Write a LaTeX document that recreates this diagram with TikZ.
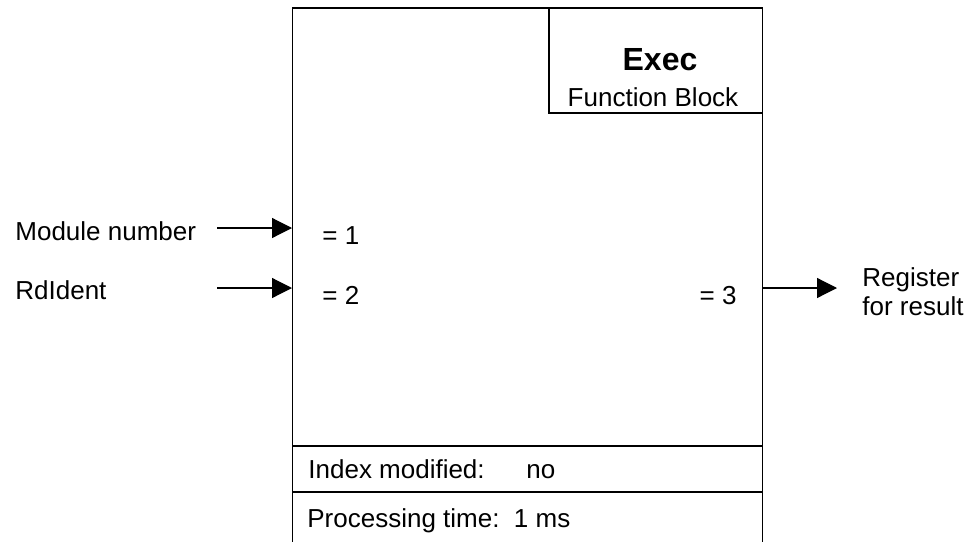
\documentclass[tikz,border=0pt]{standalone}
\usepackage{fontspec}
\setmainfont{Liberation Sans}
\usetikzlibrary{positioning, arrows.meta}

\begin{document}
\begin{tikzpicture}[
      x=0.5pt, y=-0.5pt,
      txt/.style={anchor=base west, inner sep=0pt, font=\fontsize{13}{15}\selectfont},
      arr/.style={-{Triangle[length=10pt, width=10pt]}, line width=0.6pt},
      rule/.style={line width=1pt}]
      \useasboundingbox (0,0) rectangle (969,541);
      % block frame and header
      \node[draw, line width=0.6pt, anchor=north west, minimum width=235pt, minimum height=280pt, inner sep=0pt] (fb) at (292,8) {};
      \draw[rule] (fb.north west) -- (fb.north east);
      \node[anchor=north east, minimum width=106.5pt, minimum height=52pt, inner sep=0pt] (hdr) at (fb.north east) {};
      \draw[rule] (hdr.north west) -- (hdr.south west) -- (hdr.south east);
      \node[anchor=base, font=\bfseries\fontsize{16}{19}\selectfont] (exec) at (660,70) {Exec};
      \node[txt, anchor=base] (kind) at (653,106) {Function Block};
      % footer rows
      \coordinate (idx) at (292,446);
      \coordinate (tim) at (292,492);
      \draw[rule] (idx) -- (idx -| fb.east);
      \draw[rule] (tim) -- (tim -| fb.east);
      \node[txt] (idxmod) at (308,478) {Index modified:};
      \node[txt] (idxval) at (526,478) {no};
      \node[txt] (ptime)  at (307,527) {Processing time:\ \ 1 ms};
      % inputs
      \node[txt] (modnum) at (15,240) {Module number};
      \node[txt] (rdid)   at (15,299) {RdIdent};
      \coordinate (modsrc) at (217,228);
      \coordinate (rdsrc)  at (217,288);
      \draw[arr] (modsrc) -- (modsrc -| fb.west);
      \draw[arr] (rdsrc) -- (rdsrc -| fb.west);
      \node[txt] (in1) at (322,244) {= 1};
      \node[txt] (in2) at (322,304) {= 2};
      % output
      \node[txt, anchor=base east] (out3) at (737,304) {= 3};
      \coordinate (res) at (837,288);
      \draw[arr] (res -| fb.east) -- (res);
      \node[txt] (reg)  at (862,286) {Register};
      \node[txt] (reg2) at (862,315) {for result};
    \end{tikzpicture}
\end{document}
